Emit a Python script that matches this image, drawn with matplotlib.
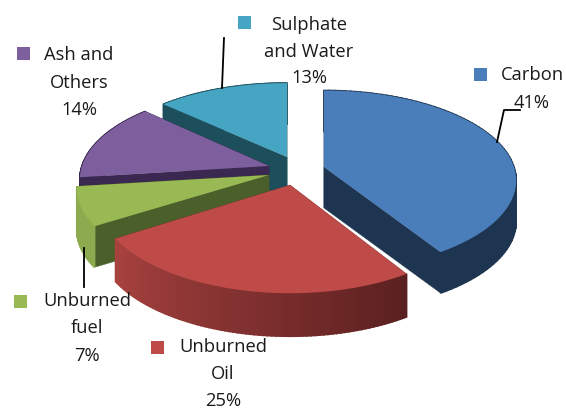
import numpy as np
import matplotlib
matplotlib.use('Agg')
import matplotlib.pyplot as plt
from matplotlib.colors import to_rgb
from matplotlib.patches import Polygon, Rectangle

labels = ['Carbon', 'Unburned Oil', 'Unburned fuel', 'Ash and Others', 'Sulphate and Water']
values = [41, 25, 7, 14, 13]
top_colors = ['#4A7EBB', '#BE4B48', '#98B954', '#7D5F9E', '#46A5C2']
inner_colors = ['#1D3550', '#7A2C2A', '#4B5F2A', '#3A2850', '#1D4E5B']
# outer wall colour at start and end of the arc
outer_from = ['#1D3550', '#5A2020', '#8CAB4E', '#3A2850', '#1D4E5B']
outer_to = ['#1D3550', '#A8423F', '#8CAB4E', '#3A2850', '#1D4E5B']

# slice apex in image pixels (each slice is pulled out on its own)
apex = [(324, 167), (290, 185), (269, 175), (269, 166), (287, 157)]
rx = [190, 190, 190, 187, 187]
ry = [88, 92, 88, 88, 85]
depth = [41, 43, 41, 41, 41]
k = 0.15


def project(a, c, w, h):
    # a clockwise from top, simple perspective so the front looks bigger
    u = np.sin(a)
    v = -np.cos(a)
    s = 1 / (1 - k * v)
    return c[0] + w * u * s, c[1] + h * v * s


fig = plt.figure(figsize=(5.66, 4.11), dpi=100)
ax = fig.add_axes([0, 0, 1, 1])
ax.set_xlim(0, 566)
ax.set_ylim(411, 0)
ax.axis('off')

fractions = np.array(values) / sum(values)
ends = np.cumsum(fractions) * 2 * np.pi
starts = ends - fractions * 2 * np.pi

for i in [4, 3, 2, 1, 0]:
    z = 10 * (5 - i)
    d = depth[i]
    a = np.linspace(starts[i], ends[i], 81)
    x, y = project(a, apex[i], rx[i], ry[i])
    cx, cy = apex[i]
    # radial walls
    for j in [0, -1]:
        ax.add_patch(Polygon([(cx, cy), (x[j], y[j]), (x[j], y[j] + d), (cx, cy + d)],
                             closed=True, fc=inner_colors[i], ec=inner_colors[i], lw=0.3, zorder=z))
    # outer wall, cut in strips for the shading
    c0, c1 = np.array(to_rgb(outer_from[i])), np.array(to_rgb(outer_to[i]))
    for j in range(80):
        col = c0 + (c1 - c0) * j / 79
        ax.add_patch(Polygon([(x[j], y[j]), (x[j + 1], y[j + 1]), (x[j + 1], y[j + 1] + d), (x[j], y[j] + d)],
                             closed=True, fc=col, ec=col, lw=1.2, zorder=z + 1 + j * 0.001))
    ax.add_patch(Polygon(np.r_[[(cx, cy)], np.c_[x, y]], closed=True,
                         fc=top_colors[i], ec='none', zorder=z + 2))

# leader lines
ax.plot([497, 504, 520], [142, 110, 110], color='black', lw=1.3, zorder=100)
ax.plot([224, 222], [38, 88], color='black', lw=1.3, zorder=100)
ax.plot([84, 84], [248, 287], color='black', lw=1.3, zorder=100)

font = dict(family='Open Sans', fontsize=13.2, color='#1a1a1a', ha='center', va='center', zorder=101)
ax.text(532, 75, 'Carbon', **font)
ax.text(532, 103, '41%', **font)
ax.text(309, 25, 'Sulphate', **font)
ax.text(309, 52, 'and Water', **font)
ax.text(309, 78, '13%', **font)
ax.text(79, 55, 'Ash and', **font)
ax.text(79, 83, 'Others', **font)
ax.text(79, 110, '14%', **font)
ax.text(87, 301, 'Unburned', **font)
ax.text(87, 328, 'fuel', **font)
ax.text(87, 356, '7%', **font)
ax.text(223, 347, 'Unburned', **font)
ax.text(223, 374, 'Oil', **font)
ax.text(223, 401, '25%', **font)

# legend keys
for (kx, ky), c in zip([(480, 75), (157, 347), (20, 301), (23, 54), (244, 23)], top_colors):
    ax.add_patch(Rectangle((kx - 6.5, ky - 6.5), 13, 13, fc=c, ec='none', zorder=101))

fig.savefig('out.png', dpi=100)
